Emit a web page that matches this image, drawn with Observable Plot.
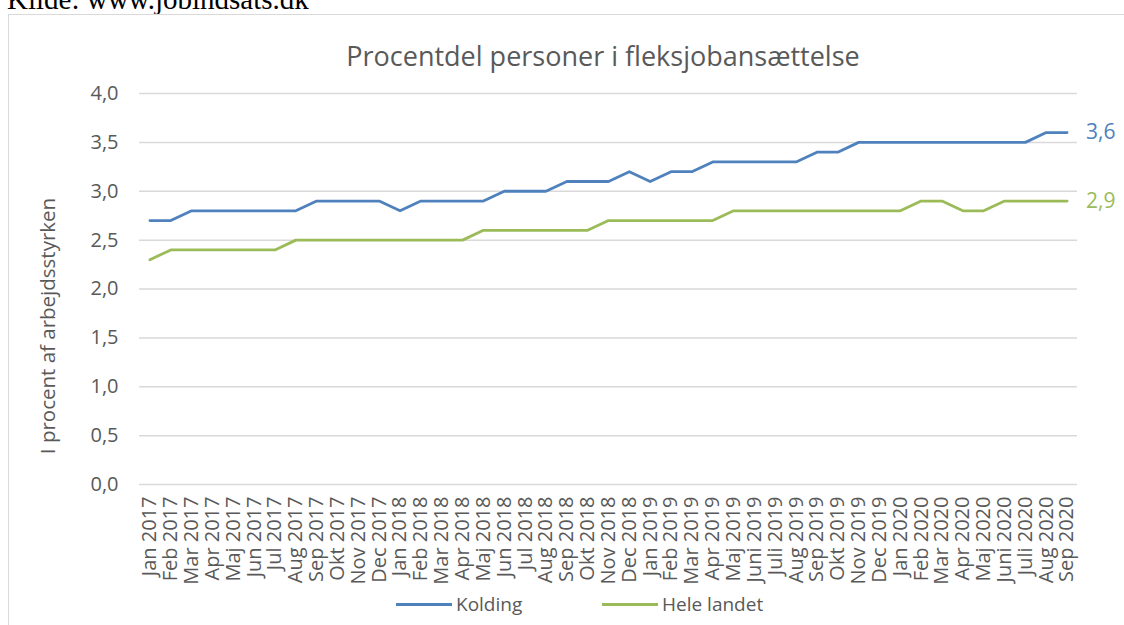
<!DOCTYPE html>
<html>
<head>
<meta charset="utf-8">
<script src="https://cdn.jsdelivr.net/npm/d3@7"></script>
<script src="https://cdn.jsdelivr.net/npm/@observablehq/plot@0.6"></script>
<style>
  body { margin: 0; background: #fff; overflow: hidden; }
  #page { position: relative; width: 1124px; height: 625px; overflow: hidden; font-family: "Open Sans", sans-serif; color: #595959; }
  #kilde { position: absolute; left: 7px; top: -15px; font-family: "Liberation Serif", "Times New Roman", serif; font-size: 29px; line-height: 1; color: #000; white-space: nowrap; }
  #frame { position: absolute; left: 8px; top: 14px; width: 1140px; height: 650px; border: 1.5px solid #d9d9d9; box-sizing: border-box; background: #fff; }
  #title { position: absolute; left: 603px; top: 42px; transform: translateX(-50%); font-size: 27px; line-height: 1; white-space: nowrap; color: #595959; }
  #ytitle { position: absolute; left: 47px; top: 326px; transform: translate(-50%, -50%) rotate(-90deg); font-size: 20.5px; line-height: 1; white-space: nowrap; color: #595959; }
  #chart { position: absolute; left: 0; top: 70px; }
  .leg { position: absolute; top: 591px; display: flex; align-items: center; font-size: 19px; line-height: 26px; color: #595959; white-space: nowrap; }
  .sw { width: 56px; height: 3px; margin-right: 4px; }
</style>
</head>
<body>
<div id="page">
  <div id="kilde">Kilde: www.jobindsats.dk</div>
  <div id="frame"></div>
  <div id="title">Procentdel personer i fleksjobansættelse</div>
  <div id="ytitle">I procent af arbejdsstyrken</div>
  <div id="chart"></div>
  <div class="leg" style="left:396px"><div class="sw" id="sw0"></div><span id="lg0"></span></div>
  <div class="leg" style="left:602px"><div class="sw" id="sw1"></div><span id="lg1"></span></div>
</div>
<script>
const months = [
  "Jan 2017","Feb 2017","Mar 2017","Apr 2017","Maj 2017","Jun 2017","Jul 2017","Aug 2017","Sep 2017","Okt 2017","Nov 2017","Dec 2017",
  "Jan 2018","Feb 2018","Mar 2018","Apr 2018","Maj 2018","Jun 2018","Jul 2018","Aug 2018","Sep 2018","Okt 2018","Nov 2018","Dec 2018",
  "Jan 2019","Feb 2019","Mar 2019","Apr 2019","Maj 2019","Juni 2019","Juli 2019","Aug 2019","Sep 2019","Okt 2019","Nov 2019","Dec 2019",
  "Jan 2020","Feb 2020","Mar 2020","Apr 2020","Maj 2020","Juni 2020","Juli 2020","Aug 2020","Sep 2020"
];
const kolding = [
  2.7,2.7,2.8,2.8,2.8,2.8,2.8,2.8,2.9,2.9,2.9,2.9,
  2.8,2.9,2.9,2.9,2.9,3.0,3.0,3.0,3.1,3.1,3.1,3.2,
  3.1,3.2,3.2,3.3,3.3,3.3,3.3,3.3,3.4,3.4,3.5,3.5,
  3.5,3.5,3.5,3.5,3.5,3.5,3.5,3.6,3.6
];
const heleLandet = [
  2.3,2.4,2.4,2.4,2.4,2.4,2.4,2.5,2.5,2.5,2.5,2.5,
  2.5,2.5,2.5,2.5,2.6,2.6,2.6,2.6,2.6,2.6,2.7,2.7,
  2.7,2.7,2.7,2.7,2.8,2.8,2.8,2.8,2.8,2.8,2.8,2.8,
  2.8,2.9,2.9,2.8,2.8,2.9,2.9,2.9,2.9
];
const seriesNames = ["Kolding", "Hele landet"];
const seriesColors = ["#4f81bd", "#9bbb59"];
const yTicks = [0, 0.5, 1.0, 1.5, 2.0, 2.5, 3.0, 3.5, 4.0];

const fmt = d => d.toFixed(1).replace(".", ",");
const allSeries = [kolding, heleLandet];
const rows = [];
allSeries.forEach((vals, s) => vals.forEach((v, i) => rows.push({month: months[i], series: seriesNames[s], value: v})));
const lastRows = allSeries.map((vals, s) => ({month: months[months.length - 1], series: seriesNames[s], value: vals[vals.length - 1]}));

const chart = Plot.plot({
  width: 1124,
  height: 520,
  marginTop: 23,
  marginBottom: 106,
  marginLeft: 139,
  marginRight: 47,
  style: {fontFamily: "Open Sans, sans-serif", color: "#595959", background: "transparent", overflow: "visible"},
  x: {type: "point", domain: months, padding: 0.5},
  y: {domain: [0, 4]},
  color: {domain: seriesNames, range: seriesColors},
  marks: [
    Plot.ruleY(yTicks, {stroke: "#d9d9d9", strokeWidth: 1.5}),
    Plot.axisY({ticks: yTicks, tickFormat: fmt, tickSize: 0, tickPadding: 21, fontSize: 20, label: null, fill: "#595959"}),
    Plot.axisX({tickRotate: -90, tickSize: 0, tickPadding: 12, fontSize: 20, label: null, fill: "#595959"}),
    Plot.line(rows, {x: "month", y: "value", z: "series", stroke: "series", strokeWidth: 2.8, strokeLinejoin: "round", strokeLinecap: "round"}),
    Plot.text(lastRows, {x: "month", y: "value", text: d => fmt(d.value), fill: "series", dx: 19, textAnchor: "start", fontSize: 21})
  ]
});
document.getElementById("chart").appendChild(chart);
seriesNames.forEach((n, i) => {
  document.getElementById("sw" + i).style.background = seriesColors[i];
  document.getElementById("lg" + i).textContent = n;
});
</script>
</body>
</html>
